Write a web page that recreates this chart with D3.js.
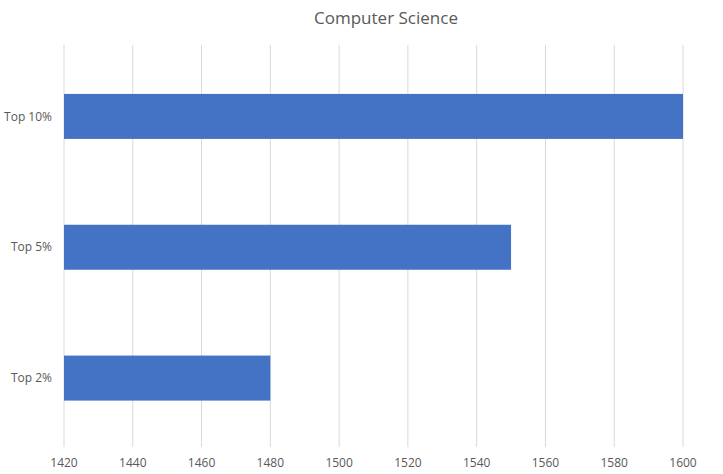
<!DOCTYPE html>
<html><head><meta charset="utf-8">
<script src="https://cdn.jsdelivr.net/npm/d3@7"></script>
<style>body{margin:0;background:#fff}text{font-family:"Open Sans","Liberation Sans",sans-serif;fill:#595959}</style>
</head><body><svg id="c" width="723" height="474"></svg>
<script>
const categories = ["Top 10%", "Top 5%", "Top 2%"];
const values = [1600, 1550, 1480];
const xTicks = [1420,1440,1460,1480,1500,1520,1540,1560,1580,1600];
const title = "Computer Science";

const svg = d3.select("#c");
const x = d3.scaleLinear().domain([1420,1600]).range([64,683]);
const y = d3.scaleBand().domain(categories).range([51,443.5]).paddingInner(0.656).paddingOuter(0.328);

svg.selectAll("line.g").data(xTicks).enter().append("line")
  .attr("x1",d=>x(d)).attr("x2",d=>x(d)).attr("y1",45).attr("y2",447)
  .attr("stroke","#d9d9d9").attr("stroke-width",1);

svg.selectAll("rect").data(categories).enter().append("rect")
  .attr("x",x(1420)).attr("y",d=>y(d)).attr("height",y.bandwidth())
  .attr("width",(d,i)=>x(values[i])-x(1420)).attr("fill","#4472c4");

svg.selectAll("text.y").data(categories).enter().append("text")
  .attr("x",52).attr("y",d=>y(d)+y.bandwidth()/2).attr("dy","0.35em")
  .attr("text-anchor","end").attr("font-size",12).text(d=>d);

svg.selectAll("text.x").data(xTicks).enter().append("text")
  .attr("x",d=>x(d)).attr("y",467).attr("text-anchor","middle").attr("font-size",12).text(d=>d);

svg.append("text").attr("x",386).attr("y",24).attr("text-anchor","middle").attr("font-size",17).text(title);
</script></body></html>
